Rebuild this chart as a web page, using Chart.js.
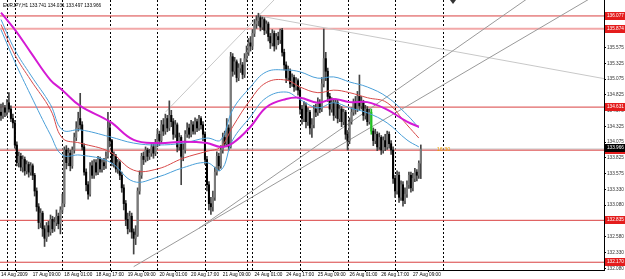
<!DOCTYPE html>
<html>
<head>
<meta charset="utf-8">
<script src="https://cdn.jsdelivr.net/npm/chart.js@4.4.0/dist/chart.umd.min.js"></script>
<style>
  html, body { margin: 0; padding: 0; background: #fff; }
  #wrap { width: 625px; height: 279px; }
</style>
</head>
<body>
<div id="wrap"><canvas id="chart" width="625" height="279"></canvas></div>
<script>
'use strict';

// EURJPY H1, one entry per hourly bar (open = previous close)
const firstOpen = 134.55;
const closes = [
  134.50, 134.62, 134.55, 134.70, 134.60, 134.45, 134.38, 134.03,
  133.75, 133.85, 133.68, 133.80, 133.62, 133.72, 133.60, 133.70, 133.55,
  133.30, 133.05, 132.80, 132.95, 132.70, 132.55,
  132.75, 132.65, 132.85, 132.70, 132.80, 132.90, 132.78,
  133.00, 133.10, 133.95, 133.75, 133.90, 133.70,
  133.95, 134.15, 134.30, 134.45, 134.35,
  134.00, 133.60, 133.40, 133.25,
  133.70, 133.55, 133.75, 133.60, 133.80, 133.65, 133.75, 133.70, 133.85,
  134.30, 134.10,
  133.75, 133.85, 133.65, 133.75, 133.55,
  133.35, 133.10, 132.85, 132.70, 132.90, 132.65, 132.55, 132.60,
  133.30, 133.55,
  133.85, 133.80, 133.95, 133.85, 133.90, 134.00, 133.90, 134.05,
  134.20, 134.10, 134.35, 134.25, 134.45, 134.30, 134.50, 134.40,
  134.20, 134.35, 134.00, 134.15, 133.85, 133.95, 134.20,
  134.30, 134.20, 134.35, 134.25, 134.40, 134.30, 134.45, 134.35, 134.20,
  133.80, 133.40, 133.10, 133.05, 133.20,
  133.60, 133.85, 133.70, 133.95,
  134.15, 134.05, 134.30, 134.00,
  135.43,
  135.20, 135.35, 135.10, 135.25, 135.30, 135.15, 135.40,
  135.50, 135.65, 135.60,
  135.80, 135.95, 136.00, 136.05, 135.90, 136.02, 135.85, 135.95, 135.75,
  135.65, 135.80, 135.60, 135.75, 135.70, 135.85,
  135.50, 135.30, 135.10, 135.20,
  135.00, 135.10, 134.95, 135.05, 134.90,
  134.60, 134.45, 134.65, 134.40, 134.55, 134.30, 134.35,
  134.60, 134.55, 134.70, 134.60,
  135.00, 135.40, 135.20,
  134.80, 134.60, 134.70, 134.50,
  134.70, 134.45, 134.60, 134.40, 134.55,
  134.20, 134.10, 134.40,
  134.55, 134.70, 134.60, 134.80, 134.65, 134.70,
  134.50, 134.60, 134.40, 134.55,
  134.25,
  134.10, 134.20, 134.00, 134.15, 133.95, 134.10, 134.00, 134.20, 134.05, 133.95,
  133.50,
  133.30, 133.55, 133.20, 133.40, 133.15, 133.25,
  133.40, 133.55, 133.35, 133.50, 133.60, 133.55,
  133.741, 133.966
];
const highs = [
  134.68, 134.70, 134.66, 134.75, 134.86, 134.65, 134.52, 134.42,
  134.08, 133.92, 133.90, 133.86, 133.84, 133.78, 133.76, 133.75, 133.73,
  133.58, 133.35, 133.10, 133.02, 132.98, 132.75,
  132.80, 132.82, 132.92, 132.90, 132.88, 133.00, 132.95,
  133.05, 133.25, 134.00, 134.02, 133.98, 133.95,
  134.00, 134.22, 134.40, 134.55, 134.85,
  134.40, 134.05, 133.65, 133.45,
  133.75, 133.78, 133.80, 133.80, 133.85, 133.84, 133.80, 133.82, 133.92,
  134.55, 134.40,
  134.12, 133.92, 133.88, 133.80, 133.78,
  133.60, 133.40, 133.15, 132.95, 132.98, 132.95, 132.70, 132.75,
  133.35, 133.62,
  133.90, 133.92, 134.00, 133.98, 133.96, 134.05, 134.04, 134.12,
  134.28, 134.25, 134.42, 134.45, 134.52, 134.50, 134.73, 134.58,
  134.45, 134.42, 134.38, 134.22, 134.18, 134.05, 134.26,
  134.38, 134.36, 134.42, 134.40, 134.46, 134.44, 134.50, 134.48, 134.40,
  134.24, 133.85, 133.45, 133.20, 133.30,
  133.68, 133.92, 133.90, 134.02,
  134.22, 134.25, 134.45, 134.35,
  135.50,
  135.48, 135.42, 135.38, 135.32, 135.40, 135.34, 135.48,
  135.60, 135.72, 135.75,
  135.86, 136.02, 136.08, 136.12, 136.08, 136.06, 136.05, 136.00, 135.98,
  135.80, 135.86, 135.84, 135.80, 135.82, 135.87,
  135.88, 135.55, 135.35, 135.28,
  135.24, 135.16, 135.14, 135.10, 135.08,
  134.94, 134.66, 134.72, 134.70, 134.62, 134.58, 134.45,
  134.66, 134.68, 134.78, 134.75,
  135.10, 135.87, 135.50,
  135.25, 134.85, 134.78, 134.75,
  134.76, 134.74, 134.66, 134.64, 134.60,
  134.58, 134.26, 134.46,
  134.62, 134.76, 134.80, 134.88, 135.14, 134.80,
  134.74, 134.66, 134.64, 134.60,
  134.60,
  134.30, 134.28, 134.24, 134.22, 134.18, 134.16, 134.20, 134.25, 134.24, 134.10,
  134.00,
  133.55, 133.62, 133.60, 133.46, 133.45, 133.35,
  133.46, 133.60, 133.60, 133.58, 133.66, 133.64,
  133.78, 134.031
];
const lows = [
  134.42, 134.45, 134.48, 134.50, 134.55, 134.40, 134.30, 133.98,
  133.70, 133.68, 133.62, 133.60, 133.55, 133.57, 133.52, 133.55, 133.48,
  133.22, 132.98, 132.70, 132.72, 132.58, 132.42,
  132.50, 132.58, 132.60, 132.64, 132.66, 132.75, 132.70,
  132.62, 132.95, 133.05, 133.65, 133.70, 133.62,
  133.66, 133.90, 134.10, 134.25, 134.28,
  133.95, 133.55, 133.30, 133.17,
  133.22, 133.50, 133.50, 133.55, 133.56, 133.60, 133.60, 133.64, 133.66,
  133.82, 134.00,
  133.70, 133.68, 133.60, 133.58, 133.48,
  133.28, 133.00, 132.75, 132.62, 132.65, 132.55, 132.30, 132.45,
  132.58, 133.25,
  133.50, 133.72, 133.76, 133.78, 133.80, 133.85, 133.82, 133.86,
  134.00, 134.02, 134.06, 134.18, 134.20, 134.24, 134.26, 134.32,
  134.12, 134.15, 133.92, 133.95, 133.40, 133.78, 133.90,
  134.15, 134.14, 134.16, 134.20, 134.20, 134.24, 134.26, 134.28, 134.10,
  133.72, 133.30, 133.00, 132.93, 132.98,
  133.15, 133.55, 133.62, 133.66,
  133.90, 134.00, 134.00, 133.95,
  133.98,
  135.12, 135.15, 135.03, 135.05, 135.18, 135.08, 135.10,
  135.35, 135.45, 135.52,
  135.55, 135.75, 135.88, 135.92, 135.84, 135.86, 135.78, 135.80, 135.68,
  135.56, 135.60, 135.52, 135.55, 135.62, 135.64,
  135.44, 135.22, 135.02, 135.05,
  134.94, 134.96, 134.88, 134.90, 134.82,
  134.52, 134.36, 134.40, 134.30, 134.34, 134.20, 134.15,
  134.30, 134.48, 134.50, 134.54,
  134.56, 134.95, 135.05,
  134.72, 134.50, 134.55, 134.42,
  134.46, 134.38, 134.40, 134.32, 134.35,
  134.12, 133.95, 134.05,
  134.36, 134.50, 134.52, 134.56, 134.58, 134.60,
  134.42, 134.44, 134.34, 134.36,
  134.20,
  134.02, 134.05, 133.94, 133.96, 133.88, 133.90, 133.94, 133.96, 133.98, 133.88,
  133.42,
  133.20, 133.25, 133.12, 133.15, 133.06, 133.10,
  133.20, 133.34, 133.28, 133.30, 133.45, 133.46,
  133.50, 133.497
];
const greenBar = 187;

// indicator lines, read at these bars
const maBars = [0, 7, 15, 25, 31, 40, 55, 67, 79, 92, 104, 111, 117, 126, 134, 144, 151, 160, 168, 176, 185, 195, 205, 211];
const bandUpper = [136.02, 135.54, 135.14, 134.67, 134.27, 134.27, 134.16, 134.06, 134.03, 134.06, 134.14, 134.11, 134.59, 134.95, 135.19, 135.22, 135.19, 135.09, 135.11, 135.03, 134.95, 134.79, 134.51, 134.30];
const bandMid = [135.94, 135.46, 135.06, 134.59, 134.14, 134.06, 133.92, 133.63, 133.65, 133.82, 133.93, 134.00, 134.32, 134.75, 135.02, 135.06, 134.95, 134.86, 134.90, 134.86, 134.78, 134.70, 134.35, 134.14];
const bandLower = [135.86, 135.35, 134.82, 134.19, 133.87, 133.87, 133.76, 133.45, 133.52, 133.67, 133.75, 133.63, 134.11, 134.48, 134.78, 134.87, 134.75, 134.62, 134.70, 134.62, 134.54, 134.38, 134.11, 134.00];
const slowMa = [136.13, 135.86, 135.50, 135.06, 134.90, 134.65, 134.40, 134.11, 134.06, 134.08, 134.06, 134.00, 134.06, 134.32, 134.63, 134.76, 134.78, 134.70, 134.76, 134.71, 134.71, 134.59, 134.40, 134.32];

// horizontal levels and trend lines drawn on the chart
const levels = [136.077, 135.874, 134.631, 133.948, 132.835, 132.170];
const levelLabels = ['136.077', '135.874', '134.631', '133.948', '132.835', '132.170'];
const pinkLevel = 135.874;
const bidPrice = 133.966;
const trendLines = [
  [[83, 134.55], [140, 136.40]],
  [[67, 132.10], [300, 136.40]],
  [[100, 132.71], [268, 136.40]],
  [[130, 136.08], [305, 135.08]]
];

// axes
const timeTicks = [0, 16, 32, 48, 64, 80, 96, 112, 128, 144, 160, 176, 192, 208];
const timeLabels = ['14 Aug 2009', '17 Aug 09:00', '18 Aug 01:00', '18 Aug 17:00', '19 Aug 09:00', '20 Aug 01:00', '20 Aug 17:00',
  '21 Aug 09:00', '24 Aug 01:00', '24 Aug 17:00', '25 Aug 09:00', '26 Aug 01:00', '26 Aug 17:00', '27 Aug 09:00'];
const daySeparators = [3, 7, 31, 55, 79, 103, 124, 127, 151, 175, 199, 223];
const priceTicks = [136.075, 135.825, 135.575, 135.325, 135.075, 134.825, 134.575, 134.325, 134.075, 133.825, 133.575, 133.325, 133.075, 132.825, 132.575, 132.325, 132.075];
const priceLabels = ['136.075', '135.825', '135.575', '135.325', '135.075', '134.825', '134.575', '134.325', '134.075', '133.825', '133.575', '133.330', '133.080', '132.830', '132.580', '132.330', '132.080'];

const header = 'EURJPY,H1 133.741 134.031 133.497 133.966';
const timerText = '16:30';
const shiftBar = 228;

const FONT = '"Liberation Sans", Arial, sans-serif';
const FONT_SIZE = 4.7;

const opens = closes.map((c, i) => (i === 0 ? firstOpen : closes[i - 1]));

const wickData = closes.map((c, i) => ({ x: i, y: [lows[i], highs[i]] }));
const bodyData = closes.map((c, i) => ({ x: i, y: [opens[i], c] }));
const bodyColors = closes.map((c, i) => (i === greenBar ? '#20c020' : (c >= opens[i] ? '#7a7a7a' : '#000')));
const wickColors = closes.map((c, i) => (i === greenBar ? '#20c020' : '#444'));

function maSet(vals, color, width) {
    return {
        type: 'line',
        data: maBars.map((b, i) => ({ x: b, y: vals[i] })),
        borderColor: color,
        borderWidth: width,
        pointRadius: 0,
        tension: 0.4,
        order: 0
    };
}

const datasets = [
    maSet(slowMa, '#d41ad4', 2),
    maSet(bandMid, '#d84a4a', 1),
    maSet(bandUpper, '#4a9fd8', 1),
    maSet(bandLower, '#4a9fd8', 1),
    {
        type: 'bar', data: bodyData, backgroundColor: bodyColors,
        barThickness: 1.4, grouped: false, order: 1
    },
    {
        type: 'bar', data: wickData, backgroundColor: wickColors,
        barThickness: 1, grouped: false, order: 2
    }
];

trendLines.forEach((t, k) => {
    datasets.push({
        type: 'line',
        data: [{ x: t[0][0], y: t[0][1] }, { x: t[1][0], y: t[1][1] }],
        borderColor: k === 0 || k === 3 ? '#c8c8c8' : '#9a9a9a',
        borderWidth: 1, pointRadius: 0, order: 3
    });
});

datasets.push({
    type: 'line',
    data: [{ x: -0.5, y: bidPrice }, { x: 304.5, y: bidPrice }],
    borderColor: '#c4c4c4', borderWidth: 1, pointRadius: 0, order: 5
});

levels.forEach(v => {
    datasets.push({
        type: 'line',
        data: [{ x: -0.5, y: v }, { x: 304.5, y: v }],
        borderColor: v === pinkLevel ? '#f2a8a8' : '#d94040',
        borderWidth: v === pinkLevel ? 2 : 1,
        pointRadius: 0, order: 4
    });
});

const overlay = {
    id: 'overlay',
    beforeDatasetsDraw(chart) {
        const { ctx, chartArea: a, scales: { x } } = chart;
        ctx.save();
        ctx.strokeStyle = '#000';
        ctx.lineWidth = 1;
        ctx.setLineDash([2, 2]);
        daySeparators.forEach(b => {
            const px = Math.round(x.getPixelForValue(b)) + 0.5;
            ctx.beginPath();
            ctx.moveTo(px, a.top);
            ctx.lineTo(px, a.bottom);
            ctx.stroke();
        });
        ctx.restore();
    },
    afterDraw(chart) {
        const { ctx, chartArea: a, scales: { x, y } } = chart;
        ctx.save();
        ctx.font = FONT_SIZE + 'px ' + FONT;
        ctx.textBaseline = 'middle';
        ctx.textAlign = 'left';

        // price boxes for the levels
        levels.forEach((v, i) => {
            const py = Math.round(y.getPixelForValue(v));
            ctx.fillStyle = '#e41c1c';
            ctx.fillRect(a.right + 1, py - 4, 20, 8);
            ctx.fillStyle = '#fff';
            ctx.fillText(levelLabels[i], a.right + 3, py);
        });
        const by = Math.round(y.getPixelForValue(bidPrice));
        ctx.fillStyle = '#000';
        ctx.fillRect(a.right + 1, by - 5, 20, 8);
        ctx.fillStyle = '#fff';
        ctx.fillText(bidPrice.toFixed(3), a.right + 3, by - 1);

        // header
        ctx.fillStyle = '#000';
        ctx.fillText(header, 3, 6);

        // bar timer
        ctx.font = '5.5px ' + FONT;
        ctx.fillStyle = '#f0a000';
        ctx.fillText(timerText, x.getPixelForValue(220), by);

        // chart shift marker
        const sx = Math.round(x.getPixelForValue(shiftBar));
        ctx.fillStyle = '#333';
        ctx.beginPath();
        ctx.moveTo(sx - 3, a.top);
        ctx.lineTo(sx + 3, a.top);
        ctx.lineTo(sx, a.top + 4);
        ctx.closePath();
        ctx.fill();
        ctx.restore();
    }
};

new Chart(document.getElementById('chart'), {
    type: 'bar',
    data: { datasets },
    plugins: [overlay],
    options: {
        responsive: false,
        animation: false,
        devicePixelRatio: 1,
        events: [],
        layout: { padding: 0 },
        plugins: { legend: { display: false }, tooltip: { enabled: false } },
        scales: {
            x: {
                type: 'linear',
                min: -0.5,
                max: 304.5,
                offset: false,
                position: 'bottom',
                border: { display: true, color: '#000' },
                grid: { drawOnChartArea: false, drawTicks: true, tickLength: 2, color: '#000' },
                ticks: {
                    autoSkip: false, maxRotation: 0, align: 'start', padding: 0,
                    color: '#000', font: { size: FONT_SIZE, family: FONT },
                    callback: (v) => timeLabels[timeTicks.indexOf(v)]
                },
                afterBuildTicks: (s) => { s.ticks = timeTicks.map(v => ({ value: v })); },
                afterFit: (s) => { s.height = 9; s.paddingLeft = 0; s.paddingRight = 0; }
            },
            y: {
                type: 'linear',
                position: 'right',
                min: 132.047,
                max: 136.33,
                border: { display: true, color: '#000' },
                grid: { drawOnChartArea: false, drawTicks: true, tickLength: 2, color: '#000' },
                ticks: {
                    autoSkip: false, padding: 1, color: '#333',
                    font: { size: FONT_SIZE, family: FONT },
                    callback: (v) => priceLabels[priceTicks.indexOf(v)]
                },
                afterBuildTicks: (s) => { s.ticks = priceTicks.map(v => ({ value: v })); },
                afterFit: (s) => { s.width = 21; s.paddingTop = 0; s.paddingBottom = 0; }
            }
        }
    }
});
</script>
</body>
</html>
